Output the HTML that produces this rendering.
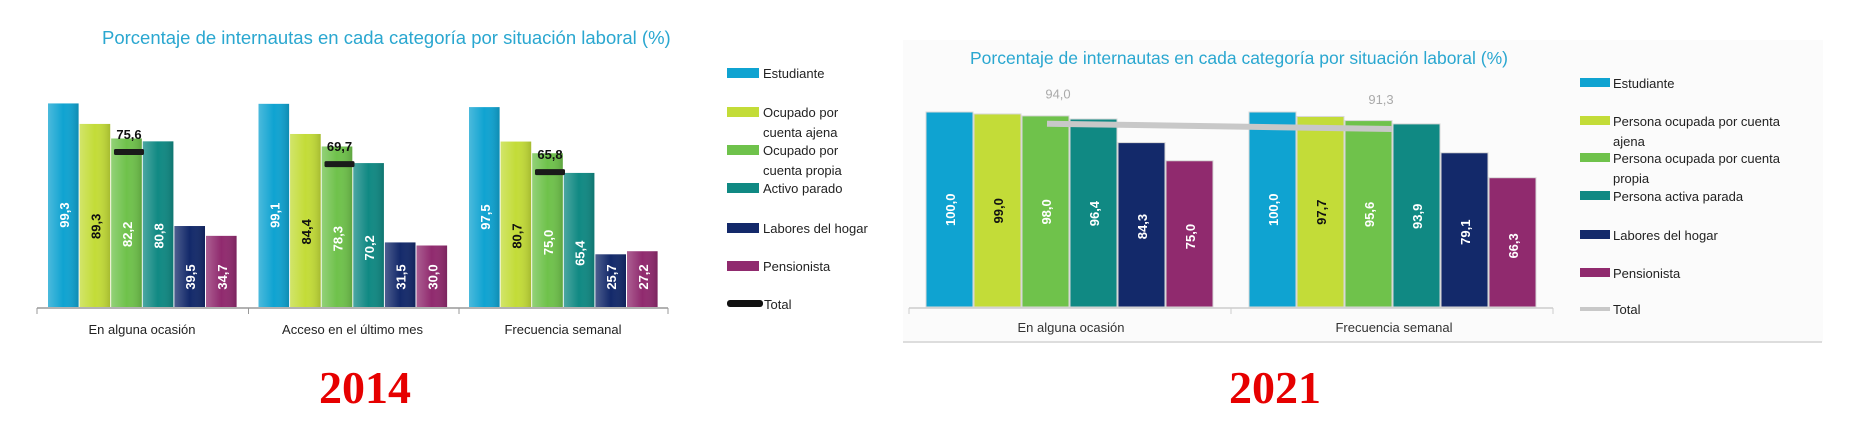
<!DOCTYPE html>
<html><head><meta charset="utf-8">
<style>
html,body{margin:0;padding:0;background:#fff;}
svg{display:block;font-family:"Liberation Sans",sans-serif;}
</style></head>
<body>
<svg id="root" width="1866" height="430" viewBox="0 0 1866 430" xmlns="http://www.w3.org/2000/svg">
  <defs>
    <linearGradient id="sh" x1="0" x2="1" y1="0" y2="0">
      <stop offset="0" stop-color="#fff" stop-opacity="0.25"/>
      <stop offset="0.5" stop-color="#fff" stop-opacity="0"/>
      <stop offset="1" stop-color="#000" stop-opacity="0.15"/>
    </linearGradient>
  </defs>
  <!-- 2014 chart -->
  <g id="c14">
    <text x="102" y="44" font-size="18.5" fill="#2aa7d0">Porcentaje de internautas en cada categoría por situación laboral (%)</text>
    <line x1="37" y1="308" x2="668" y2="308" stroke="#999" stroke-width="1.5"/>
    <g id="c14bars"></g>
    <g id="c14legend"></g>
  </g>
  <!-- 2021 chart -->
  <g id="c21">
    <rect x="903" y="40" width="920" height="302" fill="#fbfbfb"/>
    <line x1="903" y1="342" x2="1822" y2="342" stroke="#ddd" stroke-width="2"/>
    <text x="970" y="64" font-size="17.5" fill="#2aa7d0">Porcentaje de internautas en cada categoría por situación laboral (%)</text>
    <line x1="909" y1="308" x2="1553" y2="308" stroke="#ccc" stroke-width="1.5"/>
    <g id="c21bars"></g>
    <g id="c21legend"></g>
  </g>
  <text x="365" y="403" text-anchor="middle" font-family="Liberation Serif,serif" font-weight="bold" font-size="46" fill="#e60000">2014</text>
  <text x="1275" y="403" text-anchor="middle" font-family="Liberation Serif,serif" font-weight="bold" font-size="46" fill="#e60000">2021</text>
</svg>
<script>
const cats14 = ["En alguna ocasión", "Acceso en el último mes", "Frecuencia semanal"];
const series14 = ["Estudiante", "Ocupado por cuenta ajena", "Ocupado por cuenta propia", "Activo parado", "Labores del hogar", "Pensionista"];
const vals14 = [[99.3,89.3,82.2,80.8,39.5,34.7],[99.1,84.4,78.3,70.2,31.5,30.0],[97.5,80.7,75.0,65.4,25.7,27.2]];
const total14 = [75.6, 69.7, 65.8];

const cats21 = ["En alguna ocasión", "Frecuencia semanal"];
const series21 = ["Estudiante", "Persona ocupada por cuenta ajena", "Persona ocupada por cuenta propia", "Persona activa parada", "Labores del hogar", "Pensionista"];
const vals21 = [[100.0,99.0,98.0,96.4,84.3,75.0],[100.0,97.7,95.6,93.9,79.1,66.3]];
const total21 = [94.0, 91.3];

const colors = ["#0fa3d1","#c3dc38","#6fc24b","#108983","#13296a","#902a6e"];
const textCol = ["#fff","#111","#fff","#fff","#fff","#fff"];
const NS = "http://www.w3.org/2000/svg";
function mk(tag, attrs, parent){const e=document.createElementNS(NS,tag);for(const k in attrs)e.setAttribute(k,attrs[k]);parent.appendChild(e);return e;}
const fmt = v => v.toFixed(1).replace('.', ',');

// 2014
(function(){
  const g = document.getElementById('c14bars');
  const base = 307, k = 2.05, bw = 31.6;
  const groupX = i => 48 + i*210.5;
  const y = v => base - v*k;
  cats14.forEach((c,gi)=>{
    vals14[gi].forEach((v,si)=>{
      const x = groupX(gi) + si*bw;
      const r = mk('rect',{x:x,y:y(v),width:bw-1,height:v*k,fill:colors[si]},g);
      
      
      const s = mk('rect',{x:x,y:y(v),width:bw-1,height:v*k,fill:'url(#sh)'},g);
      
      
      const cx = x + bw/2, cy = y(v) + v*k*0.45 + 20;
      const t = mk('text',{x:cx+5,y:Math.min(cy, base-30),'text-anchor':'middle','font-size':13,'font-weight':'bold',fill:textCol[si],transform:'rotate(-90 '+(cx+5)+' '+Math.min(cy,base-30)+')'},g);
      t.textContent = fmt(v);
      
      
    });
    const tx = groupX(gi) + 2.5*bw + 2;
    const m = mk('rect',{x:tx-15,y:y(total14[gi])-3,width:30,height:6,rx:1.5,fill:'#1a1a1a'},g);
    
    
    const tl = mk('text',{x:tx,y:y(total14[gi])-13,'text-anchor':'middle','font-size':13,'font-weight':'bold',fill:'#111'},g);
    tl.textContent = fmt(total14[gi]);
    
    
    const cl = mk('text',{x:groupX(gi)+94,y:334,'text-anchor':'middle','font-size':13,fill:'#222'},g);
    cl.textContent = c;
    
    
    if(gi>0){const tk=mk('line',{x1:groupX(gi)-10,y1:308,x2:groupX(gi)-10,y2:314,stroke:'#999'},g);
      
      }
  });
  [37,668].forEach(xx=>{const tk=mk('line',{x1:xx,y1:308,x2:xx,y2:314,stroke:'#999'},g);
    
    });
  const L = document.getElementById('c14legend');
  const rows = [[73,["Estudiante"]],[112,["Ocupado por","cuenta ajena"]],[150,["Ocupado por","cuenta propia"]],[188,["Activo parado"]],[228,["Labores del hogar"]],[266,["Pensionista"]]];
  rows.forEach((r,i)=>{
    const sw = mk('rect',{x:727,y:r[0]-5,width:32,height:10,fill:colors[i]},L);
    
    
    r[1].forEach((ln,j)=>{const t=mk('text',{x:763,y:r[0]+5+j*20,'font-size':13,fill:'#222'},L);t.textContent=ln;
      
      });
  });
  const ts = mk('rect',{x:727,y:300,width:36,height:7,rx:3,fill:'#111'},L);
  
  
  const tt = mk('text',{x:764,y:309,'font-size':13,fill:'#222'},L);tt.textContent='Total';
  
  
})();

// 2021
(function(){
  const g = document.getElementById('c21bars');
  const base = 307, k = 1.95, bw = 48;
  const groupX = i => 926 + i*323;
  const y = v => base - v*k;
  const pts = [];
  cats21.forEach((c,gi)=>{
    vals21[gi].forEach((v,si)=>{
      const x = groupX(gi) + si*bw;
      const r = mk('rect',{x:x,y:y(v),width:bw-1,height:v*k,fill:colors[si],stroke:'#d8d8d8','stroke-width':1},g);
      
      
      const cx = x + bw/2 + 5, cy = base - v*k*0.55 + 10;
      const t = mk('text',{x:cx,y:cy,'text-anchor':'middle','font-size':13,'font-weight':'bold',fill:textCol[si],transform:'rotate(-90 '+cx+' '+cy+')'},g);
      t.textContent = fmt(v);
      
      
    });
    pts.push([groupX(gi)+2.75*bw, y(total21[gi])]);
    const cl = mk('text',{x:groupX(gi)+145,y:332,'text-anchor':'middle','font-size':13,fill:'#333'},g);
    cl.textContent = c;
    
    
  });
  const line = mk('line',{x1:pts[0][0]-11,y1:pts[0][1],x2:pts[1][0]+11,y2:pts[1][1],stroke:'#c8c8c8','stroke-width':6},g);
  
  
  pts.forEach((p,i)=>{
    const t = mk('text',{x:p[0],y:p[1]-25,'text-anchor':'middle','font-size':13,fill:'#aaa'},g);
    t.textContent = fmt(total21[i]);
    
    
  });
  [909,1231,1553].forEach(xx=>{const tk=mk('line',{x1:xx,y1:308,x2:xx,y2:314,stroke:'#ccc'},g);
    
    });
  const L = document.getElementById('c21legend');
  const rows = [[83,["Estudiante"]],[121,["Persona ocupada por cuenta","ajena"]],[158,["Persona ocupada por cuenta","propia"]],[196,["Persona activa parada"]],[235,["Labores del hogar"]],[273,["Pensionista"]]];
  rows.forEach((r,i)=>{
    const sw = mk('rect',{x:1580,y:r[0]-5,width:30,height:9,fill:colors[i]},L);
    
    
    r[1].forEach((ln,j)=>{const t=mk('text',{x:1613,y:r[0]+5+j*20,'font-size':13,fill:'#222'},L);t.textContent=ln;
      
      });
  });
  const ts = mk('rect',{x:1580,y:307,width:30,height:4,fill:'#c8c8c8'},L);
  
  
  const tt = mk('text',{x:1613,y:314,'font-size':13,fill:'#222'},L);tt.textContent='Total';
  
  
})();
</script>
</body></html>
